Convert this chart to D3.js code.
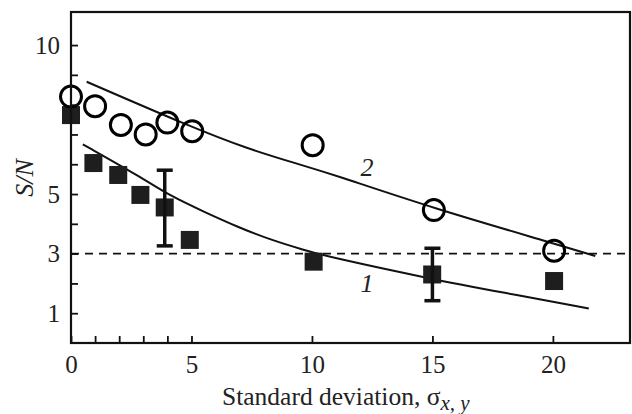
<!DOCTYPE html>
<html>
<head>
<meta charset="utf-8">
<script src="https://cdn.jsdelivr.net/npm/d3@7"></script>
<style>
  body { margin: 0; background: #fff; }
</style>
</head>
<body>
<script>
// data
var sqX = [0, 0.93, 1.96, 2.88, 3.89, 4.93, 10.07, 14.99, 20.05];
var sqY = [7.65, 6.04, 5.64, 4.97, 4.55, 3.46, 2.73, 2.30, 2.08];

var circX = [0, 1, 2.07, 3.1, 4.0, 5.03, 10.03, 15.06, 20.05];
var circY = [8.27, 7.95, 7.32, 7.0, 7.4, 7.11, 6.64, 4.46, 3.10];

// error bars: x, low, high
var errX = [3.89, 15.0];
var errLo = [3.26, 1.42];
var errHi = [5.80, 3.18];

// fitted curves
var curve1X = [0.49, 2.88, 4.13, 5.51, 6.9, 8.29, 9.68, 10.65, 15.0, 17.88, 21.49];
var curve1Y = [6.67, 5.58, 4.93, 4.41, 3.90, 3.46, 3.12, 2.90, 2.14, 1.70, 1.16];
var curve2X = [0.65, 4.96, 7.32, 9.54, 10.79, 15.03, 20.1, 21.76];
var curve2Y = [8.77, 7.26, 6.52, 5.98, 5.68, 4.52, 3.33, 2.92];

var threshold = 3;

var xTickLabels = [0, 5, 10, 15, 20];
var xMinorTicks = [1, 2, 3, 4];
var yTickLabels = [1, 3, 5, 10];
var yAllTicks = [1, 2, 3, 4, 5, 6, 7, 8, 9, 10];

var serif = "Liberation Serif";

var width = 632, height = 414;
var margin = {top: 12, right: 2, bottom: 71, left: 71};

var x = d3.scaleLinear().domain([0, 23.2]).range([margin.left, width - margin.right]);
var y = d3.scaleLinear().domain([0, 11.11]).range([height - margin.bottom, margin.top]);

var svg = d3.select("body").append("svg")
  .attr("width", width)
  .attr("height", height);

// dashed S/N = 3 line
svg.append("line")
  .attr("x1", x(0)).attr("x2", x(23.2))
  .attr("y1", y(threshold)).attr("y2", y(threshold))
  .attr("stroke", "#111").attr("stroke-width", 1.8)
  .attr("stroke-dasharray", "8,6");

// curves
var line = d3.line().curve(d3.curveBasis)
  .x(function(d) { return x(d[0]); })
  .y(function(d) { return y(d[1]); });

svg.append("path")
  .datum(d3.zip(curve1X, curve1Y))
  .attr("fill", "none").attr("stroke", "#111").attr("stroke-width", 2)
  .attr("d", line);

svg.append("path")
  .datum(d3.zip(curve2X, curve2Y))
  .attr("fill", "none").attr("stroke", "#111").attr("stroke-width", 2)
  .attr("d", line);

// squares
var s = 18;
svg.selectAll(".sq")
  .data(d3.zip(sqX, sqY))
  .enter().append("rect")
  .attr("class", "sq")
  .attr("x", function(d) { return x(d[0]) - s / 2; })
  .attr("y", function(d) { return y(d[1]) - s / 2; })
  .attr("width", s).attr("height", s)
  .attr("fill", "#1e1e1e");

// error bars
var errs = d3.zip(errX, errLo, errHi);
var eb = svg.selectAll(".err").data(errs).enter().append("g").attr("class", "err")
  .attr("stroke", "#111").attr("stroke-width", 3.5);
eb.append("line")
  .attr("x1", function(d) { return x(d[0]); }).attr("x2", function(d) { return x(d[0]); })
  .attr("y1", function(d) { return y(d[1]); }).attr("y2", function(d) { return y(d[2]); });
eb.append("line")
  .attr("x1", function(d) { return x(d[0]) - 8; }).attr("x2", function(d) { return x(d[0]) + 8; })
  .attr("y1", function(d) { return y(d[1]); }).attr("y2", function(d) { return y(d[1]); });
eb.append("line")
  .attr("x1", function(d) { return x(d[0]) - 8; }).attr("x2", function(d) { return x(d[0]) + 8; })
  .attr("y1", function(d) { return y(d[2]); }).attr("y2", function(d) { return y(d[2]); });

// circles
svg.selectAll(".ci")
  .data(d3.zip(circX, circY))
  .enter().append("circle")
  .attr("class", "ci")
  .attr("cx", function(d) { return x(d[0]); })
  .attr("cy", function(d) { return y(d[1]); })
  .attr("r", 10.5)
  .attr("fill", "none").attr("stroke", "#000").attr("stroke-width", 3);

// axes
var xAxis = svg.append("g")
  .attr("transform", "translate(0," + y(0) + ")")
  .call(d3.axisBottom(x).tickValues(xTickLabels.concat(xMinorTicks))
    .tickFormat(function(d) { return xTickLabels.indexOf(d) >= 0 ? d : ""; })
    .tickSizeInner(-7).tickSizeOuter(0).tickPadding(12));

var yAxis = svg.append("g")
  .attr("transform", "translate(" + x(0) + ",0)")
  .call(d3.axisLeft(y).tickValues(yAllTicks)
    .tickFormat(function(d) { return yTickLabels.indexOf(d) >= 0 ? d : ""; })
    .tickSizeInner(-7).tickSizeOuter(0).tickPadding(11));

[xAxis, yAxis].forEach(function(a) {
  a.attr("font-family", serif).attr("font-size", 25);
  a.select(".domain").remove();
  a.selectAll("line").attr("stroke", "#111").attr("stroke-width", 1.8);
  a.selectAll("text").attr("fill", "#222")
    .attr("font-family", serif).attr("font-size", 25);
});

// frame
svg.append("rect")
  .attr("x", x(0)).attr("y", y(11.11))
  .attr("width", x(23.2) - x(0)).attr("height", y(0) - y(11.11))
  .attr("fill", "none").attr("stroke", "#111").attr("stroke-width", 2.2);

// curve labels
svg.append("text").attr("x", 367).attr("y", 176)
  .attr("text-anchor", "middle").attr("font-family", serif)
  .attr("font-size", 26).attr("font-style", "italic").attr("fill", "#222")
  .text("2");
svg.append("text").attr("x", 367).attr("y", 292)
  .attr("text-anchor", "middle").attr("font-family", serif)
  .attr("font-size", 26).attr("font-style", "italic").attr("fill", "#222")
  .text("1");

// axis titles
var xt = svg.append("text").attr("x", 222).attr("y", 405)
  .attr("font-family", serif).attr("font-size", 25.5).attr("fill", "#222");
xt.append("tspan").text("Standard deviation, \u03c3");
xt.append("tspan").attr("dy", 5).attr("font-style", "italic").attr("font-size", 21).text("x, y");

svg.append("text")
  .attr("transform", "translate(33,178) rotate(-90)")
  .attr("text-anchor", "middle").attr("font-family", serif)
  .attr("font-size", 26).attr("font-style", "italic").attr("fill", "#222")
  .text("S/N");
</script>
</body>
</html>
